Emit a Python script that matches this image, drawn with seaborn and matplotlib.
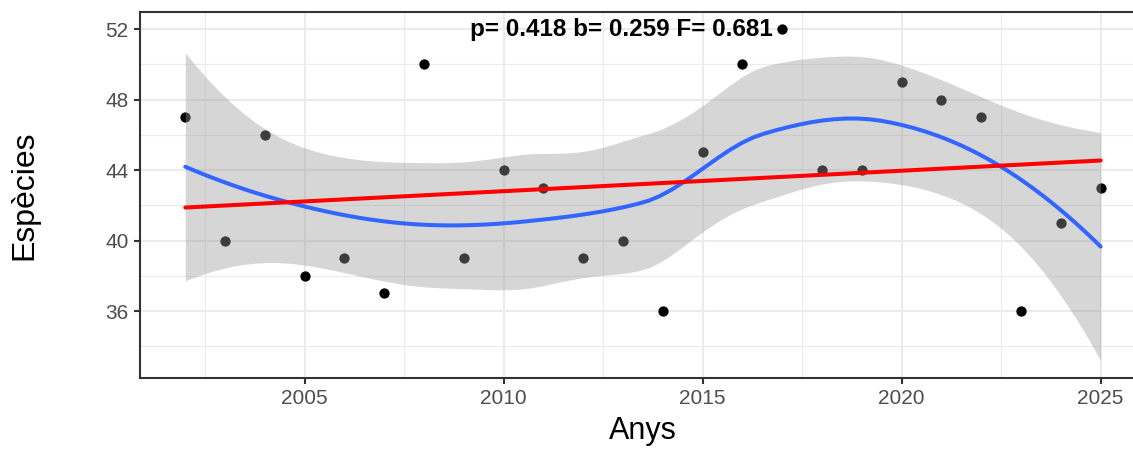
import math
import numpy as np
import pandas as pd
import matplotlib
matplotlib.use("Agg")
import matplotlib.pyplot as plt
from matplotlib.ticker import MultipleLocator, FixedLocator
import seaborn as sns

# Annual species counts
anys = [2002, 2003, 2004, 2005, 2006, 2007, 2008, 2009, 2010, 2011, 2012, 2013,
        2014, 2015, 2016, 2017, 2018, 2019, 2020, 2021, 2022, 2023, 2024, 2025]
especies = [47, 40, 46, 38, 39, 37, 50, 39, 44, 43, 39, 40,
            36, 45, 50, 52, 44, 44, 49, 48, 47, 36, 41, 43]
stats_label = "p= 0.418 b= 0.259 F= 0.681"

x_ticks = [2005, 2010, 2015, 2020, 2025]
y_ticks = [36, 40, 44, 48, 52]

df = pd.DataFrame({"Anys": anys, "Espècies": especies})


def local_rows(x, x0, span=0.75, degree=2):
    """Operator rows (value, slope) of the local quadratic fit at x0."""
    n = len(x)
    q = int(np.floor(n * span))
    d = np.abs(x - x0)
    h = np.sort(d)[q - 1]
    u = np.clip(d / h, 0, 1)
    w = (1 - u ** 3) ** 3
    X = np.vander(x - x0, degree + 1, increasing=True)
    XtW = X.T * w
    B = np.linalg.solve(XtW @ X, XtW)
    return B[0], B[1]


def kd_vertices(x, span=0.75, cell=0.2):
    """Cell boundaries of the 1-D kd tree used for loess interpolation."""
    xs = np.sort(x)
    fc = int(np.floor(len(x) * span * cell))
    mu = 0.005 * (xs[-1] - xs[0])
    verts = {xs[0] - mu, xs[-1] + mu}

    def split(lo, hi):
        if hi - lo + 1 <= fc:
            return
        m = (lo + hi) // 2
        verts.add((xs[m] + xs[m + 1]) / 2)
        split(lo, m)
        split(m + 1, hi)

    split(0, len(xs) - 1)
    return np.array(sorted(verts))


def loess_operator(x, pts, span=0.75):
    """Smoother rows at pts via cubic Hermite interpolation between kd vertices."""
    v = kd_vertices(x, span)
    vals, slopes = zip(*[local_rows(x, vv, span) for vv in v])
    vals, slopes = np.array(vals), np.array(slopes)
    rows = []
    for p in pts:
        i = int(np.clip(np.searchsorted(v, p) - 1, 0, len(v) - 2))
        dx = v[i + 1] - v[i]
        t = (p - v[i]) / dx
        h00 = 2 * t ** 3 - 3 * t ** 2 + 1
        h10 = t ** 3 - 2 * t ** 2 + t
        h01 = -2 * t ** 3 + 3 * t ** 2
        h11 = t ** 3 - t ** 2
        rows.append(h00 * vals[i] + h10 * dx * slopes[i]
                    + h01 * vals[i + 1] + h11 * dx * slopes[i + 1])
    return np.array(rows)


def t_quantile(p, dof):
    c = math.exp(math.lgamma((dof + 1) / 2) - math.lgamma(dof / 2)) / math.sqrt(dof * math.pi)
    t = np.linspace(0, 20, 200001)
    pdf = c * (1 + t ** 2 / dof) ** (-(dof + 1) / 2)
    cdf = 0.5 + np.concatenate([[0], np.cumsum((pdf[1:] + pdf[:-1]) / 2 * np.diff(t))])
    return float(np.interp(p, cdf, t))


xv = df["Anys"].to_numpy(float)
yv = df["Espècies"].to_numpy(float)

# loess smooth with 95% confidence band
grid = np.linspace(xv.min(), xv.max(), 80)
S = loess_operator(xv, xv)
Lg = loess_operator(xv, grid)
fit = Lg @ yv
resid = yv - S @ yv
IS = np.eye(len(xv)) - S
M = IS.T @ IS
one_delta = np.trace(M)
two_delta = np.trace(M @ M)
sigma = math.sqrt(np.sum(resid ** 2) / one_delta)
se = sigma * np.sqrt(np.sum(Lg ** 2, axis=1))
tq = t_quantile(0.975, one_delta ** 2 / two_delta)
lo, hi = fit - tq * se, fit + tq * se

sns.set_theme(style="white")
plt.rcParams["font.family"] = ["Liberation Sans", "DejaVu Sans"]

W, H = 1133, 450
fig = plt.figure(figsize=(W / 100, H / 100), dpi=100)
xlim = (2000.85, 2026.15)
ppy = 39.8
left_px = 139.5
ax = fig.add_axes([left_px / W, 1 - 378 / H, (xlim[1] - xlim[0]) * ppy / W, (378 - 12) / H])
ax.set_xlim(*xlim)
ax.set_ylim(32.2, 52.97)

# grid
ax.xaxis.set_major_locator(FixedLocator(x_ticks))
ax.xaxis.set_minor_locator(MultipleLocator(2.5))
ax.yaxis.set_major_locator(FixedLocator(y_ticks))
ax.yaxis.set_minor_locator(MultipleLocator(2))
ax.grid(which="major", color="#EBEBEB", linewidth=1.5, zorder=0)
ax.grid(which="minor", color="#EBEBEB", linewidth=0.8, zorder=0)
ax.set_axisbelow(True)

sns.scatterplot(data=df, x="Anys", y="Espècies", color="black", s=55,
                linewidth=0, ax=ax, zorder=2)
ax.fill_between(grid, lo, hi, color="#999999", alpha=0.4, linewidth=0, zorder=3)
sns.lineplot(x=grid, y=fit, color="#3366FF", linewidth=2.9, ax=ax, zorder=4)
sns.regplot(data=df, x="Anys", y="Espècies", scatter=False, ci=None,
            color="#FF0000", line_kws={"linewidth": 2.9, "zorder": 5}, ax=ax)

ax.text(2012.95, 52, stats_label, ha="center", va="center", fontsize=17.5,
        fontweight="bold", color="black", zorder=6)

for s in ax.spines.values():
    s.set_color("#333333")
    s.set_linewidth(1.5)
    s.set_visible(True)

ax.tick_params(which="major", length=4, width=1.5, color="#333333",
               labelcolor="#4D4D4D", labelsize=15, pad=4)
ax.tick_params(which="minor", length=0)
ax.tick_params(axis="x", bottom=True)
ax.tick_params(axis="y", left=True)
ax.set_xlabel("Anys", fontsize=22, color="black", labelpad=6)
ax.set_ylabel("Espècies", fontsize=23, color="black", labelpad=47)

fig.savefig("out.png", dpi=100)
